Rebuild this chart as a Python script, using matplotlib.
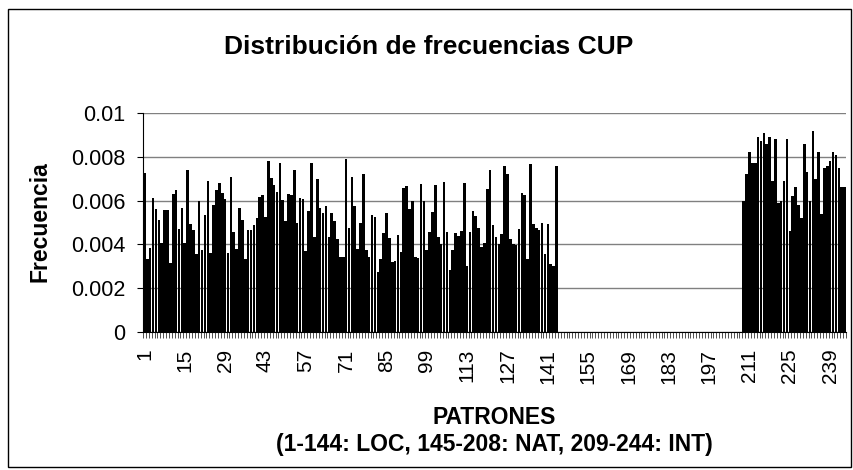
import matplotlib
matplotlib.use('Agg')
import matplotlib.pyplot as plt
from matplotlib.patches import Rectangle
import numpy as np

plt.rcParams['font.family'] = ['Liberation Sans', 'DejaVu Sans']

# frecuencias
loc = [0.00727, 0.00333, 0.00382, 0.00614, 0.00560, 0.00510, 0.00405, 0.00556, 0.00558, 0.00314,
       0.00629, 0.00647, 0.00470, 0.00568, 0.00405, 0.00738, 0.00492, 0.00465, 0.00356, 0.00598,
       0.00376, 0.00533, 0.00690, 0.00362, 0.00579, 0.00647, 0.00679, 0.00636, 0.00609, 0.00359,
       0.00710, 0.00455, 0.00379,
       0.00568, 0.00510, 0.00333, 0.00468, 0.00465, 0.00489, 0.00520, 0.00618, 0.00626, 0.00527,
       0.00783, 0.00705, 0.00671, 0.00639, 0.00770, 0.00602, 0.00508, 0.00632, 0.00624, 0.00739,
       0.00500, 0.00614, 0.00606, 0.00371, 0.00553, 0.00773, 0.00432, 0.00700, 0.00568, 0.00542,
       0.00576, 0.00432, 0.00545,
       0.00508, 0.00424, 0.00341, 0.00344, 0.00792, 0.00477, 0.00709, 0.00576, 0.00379, 0.00500,
       0.00720, 0.00374, 0.00344, 0.00533, 0.00527, 0.00273, 0.00332, 0.00452, 0.00545, 0.00429,
       0.00321, 0.00326, 0.00442, 0.00364, 0.00656, 0.00667, 0.00560, 0.00598, 0.00341, 0.00338,
       0.00677, 0.00598, 0.00374, 0.00455, 0.00548,
       0.00670, 0.00432, 0.00402, 0.00685, 0.00455, 0.00283, 0.00374, 0.00452, 0.00439, 0.00459,
       0.00682, 0.00303, 0.00458, 0.00553, 0.00530, 0.00477, 0.00386, 0.00406, 0.00655, 0.00742,
       0.00490, 0.00435, 0.00402, 0.00447, 0.00758, 0.00723, 0.00424, 0.00402, 0.00398, 0.00470,
       0.00636, 0.00626, 0.00333, 0.00765, 0.00492, 0.00477,
       0.00465, 0.00500, 0.00355, 0.00495, 0.00310, 0.00300, 0.00758]

nat = [0, 0, 0, 0, 0, 0, 0, 0, 0, 0, 0, 0, 0, 0, 0, 0,
       0, 0, 0, 0, 0, 0, 0, 0, 0, 0, 0, 0, 0, 0, 0, 0,
       0, 0, 0, 0, 0, 0, 0, 0, 0, 0, 0, 0, 0, 0, 0, 0,
       0, 0, 0, 0, 0, 0, 0, 0, 0, 0, 0, 0, 0, 0, 0, 0]

intl = [0.0060, 0.0072, 0.0082, 0.0077, 0.0077, 0.0089, 0.0087, 0.0091, 0.0086, 0.0089,
        0.0069, 0.0088, 0.0059, 0.0060, 0.0069, 0.0088, 0.0046, 0.0062, 0.0066, 0.0058,
        0.0052, 0.0086, 0.0073, 0.0060, 0.0092, 0.0070, 0.0082, 0.0054, 0.0075, 0.0076,
        0.0078, 0.0082, 0.0081, 0.0075, 0.0066, 0.0066]

freq = loc + nat + intl
patrones = np.arange(1, len(freq) + 1)
yticks = [0, 0.002, 0.004, 0.006, 0.008, 0.01]
ylabels = ['0', '0.002', '0.004', '0.006', '0.008', '0.01']
xlab_pos = patrones[::14]

W, H = 854, 470
fig = plt.figure(figsize=(W / 100, H / 100), dpi=100)
# marco exterior del grafico
fig.patches.append(Rectangle((8 / W, 3 / H), 843 / W, 458 / H, transform=fig.transFigure,
                             fill=False, edgecolor='black', linewidth=1.0))

ax = fig.add_axes([143 / W, (H - 332) / H, (846 - 143) / W, (332 - 113) / H])
ax.bar(patrones, freq, width=0.9, color='black', linewidth=0, zorder=3)

ax.set_xlim(0.5, len(freq) + 0.5)
ax.set_ylim(0, 0.01)
ax.set_yticks(yticks)
ax.set_yticklabels(ylabels, fontsize=15.5)
ax.yaxis.grid(True, color='#808080', linewidth=1.0, zorder=0)

ax.set_xticks(xlab_pos)
ax.set_xticklabels([str(p) for p in xlab_pos], rotation=90, fontsize=15)
ax.set_xticks(np.arange(0.5, len(freq) + 1, 1), minor=True)
ax.tick_params(axis='x', which='major', length=0, pad=12)
ax.tick_params(axis='x', which='minor', length=4.5, width=0.6, direction='out', color='#333333')
ax.tick_params(axis='y', length=4.5, width=0.8, direction='out', pad=8)

for s in ['top', 'right']:
    ax.spines[s].set_visible(False)
ax.spines['left'].set_color('black')
ax.spines['bottom'].set_color('black')

fig.text(429 / W, 1 - 47 / H, 'Distribución de frecuencias CUP', ha='center', va='center',
         fontsize=19, fontweight='bold')
fig.text(40 / W, 1 - 222 / H, 'Frecuencia', ha='center', va='center', rotation=90,
         fontsize=16.5, fontweight='bold')
fig.text(494 / W, 1 - 417 / H, 'PATRONES', ha='center', va='center', fontsize=16.5, fontweight='bold')
fig.text(494 / W, 1 - 445 / H, '(1-144: LOC, 145-208: NAT, 209-244: INT)', ha='center', va='center',
         fontsize=16.5, fontweight='bold')

fig.savefig('out.png', dpi=100)
